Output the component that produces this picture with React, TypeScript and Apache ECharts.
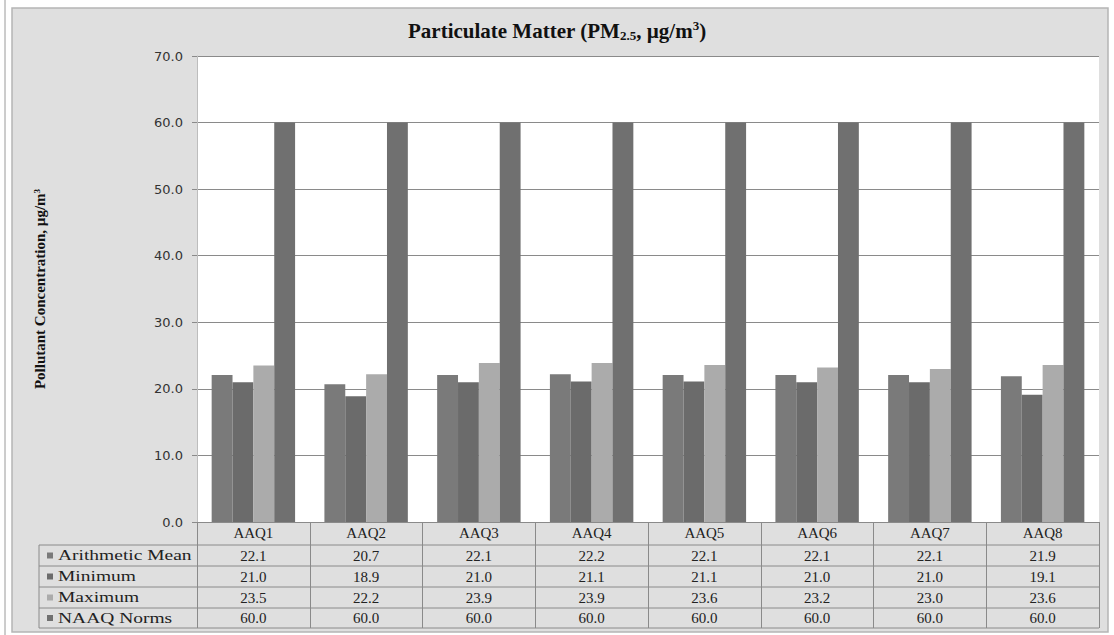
import React, { useEffect, useRef } from "react";
import * as echarts from "echarts";

const categories = ["AAQ1", "AAQ2", "AAQ3", "AAQ4", "AAQ5", "AAQ6", "AAQ7", "AAQ8"];
const seriesNames = ["Arithmetic Mean", "Minimum", "Maximum", "NAAQ Norms"];
const meanValues = [22.1, 20.7, 22.1, 22.2, 22.1, 22.1, 22.1, 21.9];
const minValues = [21.0, 18.9, 21.0, 21.1, 21.1, 21.0, 21.0, 19.1];
const maxValues = [23.5, 22.2, 23.9, 23.9, 23.6, 23.2, 23.0, 23.6];
const normValues = [60.0, 60.0, 60.0, 60.0, 60.0, 60.0, 60.0, 60.0];
const seriesColors = ["#7a7a7a", "#6b6b6b", "#ababab", "#707070"];

const W = 1114;
const H = 635;
const GRID_L = 197;
const GRID_R = 1099;
const GRID_T = 56;
const GRID_B = 522;
const TABLE_L = 39;
const ROW_LINES = [545, 566, 587, 608, 628];

export default function App() {
  const ref = useRef<HTMLDivElement>(null);
  useEffect(() => {
    if (!ref.current) return;
    const chart = echarts.init(ref.current, null, { renderer: "svg" });
    const allSeries = [meanValues, minValues, maxValues, normValues];
    const colW = (GRID_R - GRID_L) / categories.length;
    const serif = "'Liberation Serif', 'Times New Roman', serif";
    const graphics: any[] = [];
    graphics.push({
      type: "line",
      shape: { x1: 5, y1: 0, x2: 5, y2: H },
      style: { stroke: "#9a9a9a", lineWidth: 1 },
      silent: true,
    });
    graphics.push({
      type: "rect",
      z: -10,
      shape: { x: 12, y: 8, width: 1096, height: 624 },
      style: { fill: "#dfdfdf", stroke: "#b5b5b5", lineWidth: 1.5 },
      silent: true,
    });
    ROW_LINES.forEach((y) => {
      graphics.push({
        type: "line",
        shape: { x1: TABLE_L, y1: y, x2: GRID_R, y2: y },
        style: { stroke: "#8a8a8a", lineWidth: 1 },
        silent: true,
      });
    });
    graphics.push({
      type: "line",
      shape: { x1: TABLE_L, y1: ROW_LINES[0], x2: TABLE_L, y2: ROW_LINES[4] },
      style: { stroke: "#8a8a8a", lineWidth: 1 },
      silent: true,
    });
    allSeries.forEach((vals, r) => {
      const yc = (ROW_LINES[r] + ROW_LINES[r + 1]) / 2;
      graphics.push({
        type: "rect",
        shape: { x: 47, y: yc - 3, width: 6, height: 6 },
        style: { fill: seriesColors[r] },
        silent: true,
      });
      graphics.push({
        type: "text",
        x: 58,
        y: yc,
        scaleX: 1.3,
        style: {
          text: seriesNames[r],
          fill: "#222",
          font: `15px ${serif}`,
          textAlign: "left",
          textVerticalAlign: "middle",
        },
        silent: true,
      });
      vals.forEach((v, c) => {
        graphics.push({
          type: "text",
          x: GRID_L + colW * (c + 0.5),
          y: yc,
          style: {
            text: v.toFixed(1),
            fill: "#222",
            font: `15px ${serif}`,
            textAlign: "center",
            textVerticalAlign: "middle",
          },
          silent: true,
        });
      });
    });

    const option: any = {
      animation: false,
      backgroundColor: "#ffffff",
      title: {
        left: "center",
        top: 14,
        text: "{t|Particulate Matter (PM}{s|2.5}{t|, µg/m}{p|3}{t|)}",
        textStyle: {
          rich: {
            t: { fontFamily: serif, fontWeight: "bold", fontSize: 21, color: "#111" },
            s: { fontFamily: serif, fontWeight: "bold", fontSize: 13, color: "#111", verticalAlign: "bottom", padding: [10, 0, 0, 0] },
            p: { fontFamily: serif, fontWeight: "bold", fontSize: 13, color: "#111", verticalAlign: "top", padding: [0, 0, 8, 0] },
          },
        },
      },
      grid: {
        left: GRID_L,
        right: W - GRID_R,
        top: GRID_T,
        bottom: H - GRID_B,
        show: true,
        backgroundColor: "#ffffff",
        borderWidth: 0,
      },
      xAxis: {
        type: "category",
        data: categories,
        boundaryGap: true,
        axisLine: { show: true, lineStyle: { color: "#8a8a8a", width: 1 } },
        axisTick: { show: true, length: ROW_LINES[4] - GRID_B, lineStyle: { color: "#8a8a8a" } },
        axisLabel: { color: "#222", fontFamily: serif, fontSize: 15, margin: 3, interval: 0 },
      },
      yAxis: {
        type: "value",
        min: 0,
        max: 70,
        interval: 10,
        name: "{n|Pollutant Concentration, µg/m}{p|3}",
        nameLocation: "middle",
        nameGap: 150,
        nameRotate: 90,
        nameTextStyle: {
          rich: {
            n: { fontFamily: serif, fontWeight: "bold", fontSize: 15, color: "#111" },
            p: { fontFamily: serif, fontWeight: "bold", fontSize: 9, color: "#111", verticalAlign: "top", padding: [0, 0, 6, 0] },
          },
        },
        axisLine: { show: true, lineStyle: { color: "#bdbdbd" } },
        axisTick: { show: true, length: 5, lineStyle: { color: "#8a8a8a" } },
        axisLabel: {
          color: "#333",
          fontFamily: "'DejaVu Sans', sans-serif",
          fontSize: 13,
          margin: 14,
          formatter: (v: number) => v.toFixed(1),
        },
        splitLine: { show: true, lineStyle: { color: "#8a8a8a", width: 1 } },
      },
      series: allSeries.map((vals, i) => ({
        name: seriesNames[i],
        type: "bar",
        data: vals,
        barGap: "0%",
        barCategoryGap: "26%",
        itemStyle: { color: seriesColors[i] },
      })),
      graphic: graphics,
    };
    chart.setOption(option);
    return () => chart.dispose();
  }, []);
  return (
    <div
      ref={ref}
      style={{ position: "fixed", left: 0, top: 0, width: W, height: H }}
    />
  );
}
